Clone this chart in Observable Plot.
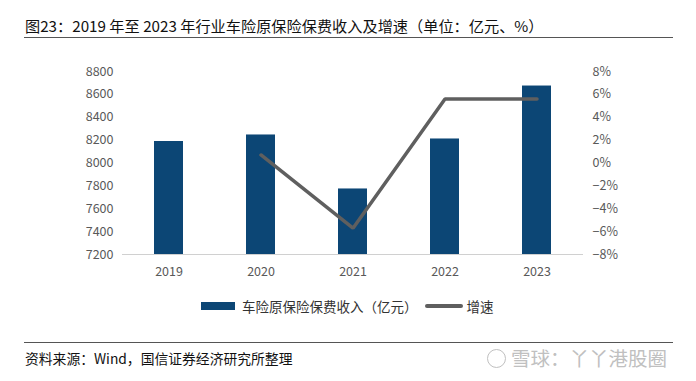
<!DOCTYPE html>
<html>
<head>
<meta charset="utf-8">
<script src="https://cdn.jsdelivr.net/npm/d3@7"></script>
<script src="https://cdn.jsdelivr.net/npm/@observablehq/plot@0.6"></script>
<style>
  html, body { margin: 0; padding: 0; background: #fff; }
  #wrap { position: relative; width: 696px; height: 381px; overflow: hidden; font-family: "Noto Sans CJK SC", "Noto Sans", sans-serif; }
  #chart { position: absolute; left: 0; top: 0; }
  .title { position: absolute; left: 25px; top: 14px; font-size: 15.2px; color: #111; white-space: nowrap; line-height: 22px; }
  .hline { position: absolute; left: 24px; width: 649px; height: 1px; background: #555; }
  .legend { position: absolute; top: 297px; left: 201px; font-size: 13.5px; color: #333; white-space: nowrap; line-height: 18px; display: flex; align-items: center; }
  .sw-bar { display: inline-block; width: 34px; height: 8px; background: #0c4675; margin-right: 7px; }
  .sw-line { display: inline-block; width: 38px; height: 4px; border-radius: 2px; background: #5f5f5f; margin: 0 4px 0 7px; }
  .footer { position: absolute; left: 25px; top: 348px; font-size: 13.8px; color: #111; white-space: nowrap; line-height: 20px; }
  .wm { position: absolute; left: 487px; top: 346px; font-size: 19.5px; color: #c0c0c0; white-space: nowrap; line-height: 24px; display: flex; align-items: center; }
  .wm .logo { display: inline-block; width: 17px; height: 17px; border: 1.5px solid #c0c0c0; border-radius: 50%; margin-right: 5px; }
</style>
</head>
<body>
<div id="wrap">
  <div id="chart"></div>
  <div class="title">图23：2019 年至 2023 年行业车险原保险保费收入及增速（单位：亿元、%）</div>
  <div class="hline" style="top:37px"></div>
  <div class="legend"><span class="sw-bar"></span>车险原保险保费收入（亿元）<span class="sw-line"></span>增速</div>
  <div class="hline" style="top:342px"></div>
  <div class="footer">资料来源：Wind，国信证券经济研究所整理</div>
  <div class="wm"><span class="logo"></span>雪球：丫丫港股圈</div>
</div>
<script>
const years = ["2019", "2020", "2021", "2022", "2023"];
const premium = [8188, 8245, 7773, 8210, 8673];
const growthYears = ["2020", "2021", "2022", "2023"];
const growth = [0.7, -5.7, 5.6, 5.6];
const leftTicks = [7200, 7400, 7600, 7800, 8000, 8200, 8400, 8600, 8800];
const rightTicks = [-8, -6, -4, -2, 0, 2, 4, 6, 8];

const barData = years.map((y, i) => ({year: y, value: premium[i]}));
// growth (%) mapped onto the left scale: -8%..8% <-> 7200..8800
const toLeft = g => 8000 + g * 100;
const lineData = growthYears.map((y, i) => ({year: y, value: toLeft(growth[i])}));

const fmtPct = v => { const g = Math.round((v - 8000) / 100); return (g < 0 ? "−" + (-g) : g) + "%"; };

const chart = Plot.plot({
  width: 696,
  height: 381,
  marginTop: 71,
  marginBottom: 127,
  marginLeft: 122,
  marginRight: 113,
  style: { fontFamily: "'Noto Sans CJK SC', 'Noto Sans', sans-serif", fontSize: "12.5px", color: "#595959", background: "transparent" },
  x: { domain: years, paddingInner: 0.685, paddingOuter: 0.3425, label: null },
  y: { domain: [7200, 8800], label: null },
  marks: [
    Plot.barY(barData, { x: "year", y1: 7200, y2: "value", fill: "#0c4675" }),
    Plot.ruleY([7200], { stroke: "#d0d0d0", strokeWidth: 1 }),
    Plot.line(lineData, { x: "year", y: "value", stroke: "#5f5f5f", strokeWidth: 3.5, strokeLinejoin: "miter" }),
    Plot.axisY({ anchor: "left", ticks: leftTicks, tickFormat: d => String(d), tickSize: 0, tickPadding: 9, label: null, fontSize: 12.5 }),
    Plot.axisY({ anchor: "right", ticks: rightTicks.map(toLeft), tickFormat: fmtPct, tickSize: 0, tickPadding: 9, label: null, fontSize: 12.5 }),
    Plot.axisX({ tickSize: 0, tickPadding: 13, label: null, fontSize: 12.5 })
  ]
});
document.getElementById("chart").appendChild(chart);
</script>
</body>
</html>
